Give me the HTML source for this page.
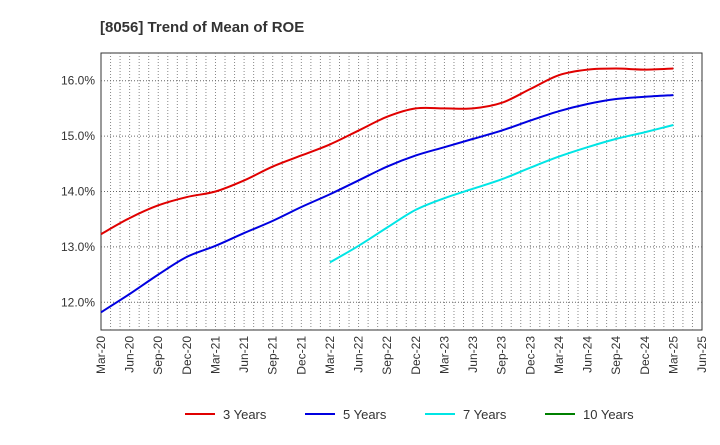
<!DOCTYPE html>
<html><head><meta charset="utf-8"><style>body{margin:0;background:#fff;font-family:"Liberation Sans",sans-serif}</style></head>
<body>
<svg id="c" width="720" height="440" xmlns="http://www.w3.org/2000/svg">
<text x="100" y="32" font-size="15" font-weight="bold" fill="#333">[8056]  Trend of Mean of ROE</text>
<g id="grid"></g><g id="axes"></g><g id="series"></g><g id="legend"></g>
</svg>
<script>
const xLabels=["Mar-20","Jun-20","Sep-20","Dec-20","Mar-21","Jun-21","Sep-21","Dec-21","Mar-22","Jun-22","Sep-22","Dec-22","Mar-23","Jun-23","Sep-23","Dec-23","Mar-24","Jun-24","Sep-24","Dec-24","Mar-25","Jun-25"];
const yTicks=[12,13,14,15,16];
const s3=[13.23,13.52,13.75,13.9,14.0,14.2,14.45,14.65,14.85,15.1,15.35,15.5,15.5,15.5,15.6,15.85,16.1,16.2,16.22,16.2,16.22];
const s5=[11.82,12.15,12.5,12.82,13.02,13.25,13.47,13.72,13.95,14.2,14.45,14.65,14.8,14.95,15.1,15.28,15.45,15.58,15.67,15.71,15.74];
const s7=[null,null,null,null,null,null,null,null,12.72,13.02,13.35,13.67,13.88,14.05,14.22,14.43,14.63,14.8,14.95,15.07,15.2];
const s10=[];
const L=101,R=702,T=53,B=330,yMin=11.5,yMax=16.5;
const X=i=>L+(R-L)*i/(xLabels.length-1);
const Y=v=>B-(v-yMin)/(yMax-yMin)*(B-T);
const NS="http://www.w3.org/2000/svg";
function mk(t,a,p){const e=document.createElementNS(NS,t);for(const k in a)e.setAttribute(k,a[k]);p.appendChild(e);return e;}
const grid=document.getElementById('grid'),axes=document.getElementById('axes'),ser=document.getElementById('series'),leg=document.getElementById('legend');
mk('rect',{x:L,y:T,width:R-L,height:B-T,fill:'#fff',stroke:'#333','stroke-width':1},grid);
const nM=(xLabels.length-1)*3;
for(let m=1;m<nM;m++){const x=L+(R-L)*m/nM;const l=mk('line',{x1:x,x2:x,y1:T,y2:B,stroke:'#888','stroke-dasharray':'1,2'},grid);
}
yTicks.forEach(v=>{const l=mk('line',{x1:L,x2:R,y1:Y(v),y2:Y(v),stroke:'#666','stroke-dasharray':'1,2'},grid);
});
yTicks.forEach(v=>{const t=mk('text',{x:L-6,y:Y(v)+4,'text-anchor':'end','font-size':12,fill:'#333'},axes);t.textContent=v.toFixed(1)+'%';
});
xLabels.forEach((s,i)=>{const t=mk('text',{x:0,y:0,'text-anchor':'end','font-size':12,fill:'#333',transform:`translate(${X(i)+4},${B+6}) rotate(-90)`},axes);t.textContent=s;
});
function line(d,c,n){const pts=[];d.forEach((v,i)=>{if(v!=null)pts.push([X(i),Y(v)]);});if(pts.length<2)return;
let p='M'+pts[0][0]+','+pts[0][1];
for(let i=0;i<pts.length-1;i++){const p0=pts[i-1]||pts[i],p1=pts[i],p2=pts[i+1],p3=pts[i+2]||p2;
const c1=[p1[0]+(p2[0]-p0[0])/6,p1[1]+(p2[1]-p0[1])/6],c2=[p2[0]-(p3[0]-p1[0])/6,p2[1]-(p3[1]-p1[1])/6];
p+=`C${c1[0]},${c1[1]} ${c2[0]},${c2[1]} ${p2[0]},${p2[1]}`;}
const e=mk('path',{d:p,fill:'none',stroke:c,'stroke-width':2,'stroke-linejoin':'round'},ser);
}
line(s3,'#e00000','series-3-years');line(s5,'#0000e0','series-5-years');line(s7,'#00e5e5','series-7-years');line(s10,'#008000','series-10-years');
[['3 Years','#e00000',185],['5 Years','#0000e0',305],['7 Years','#00e5e5',425],['10 Years','#008000',545]].forEach(([n,c,x])=>{
const g=mk('g',{},leg);
mk('line',{x1:x,x2:x+30,y1:414,y2:414,stroke:c,'stroke-width':2},g);
const t=mk('text',{x:x+38,y:419,'font-size':13,fill:'#333'},g);t.textContent=n;});
</script>
</body></html>
